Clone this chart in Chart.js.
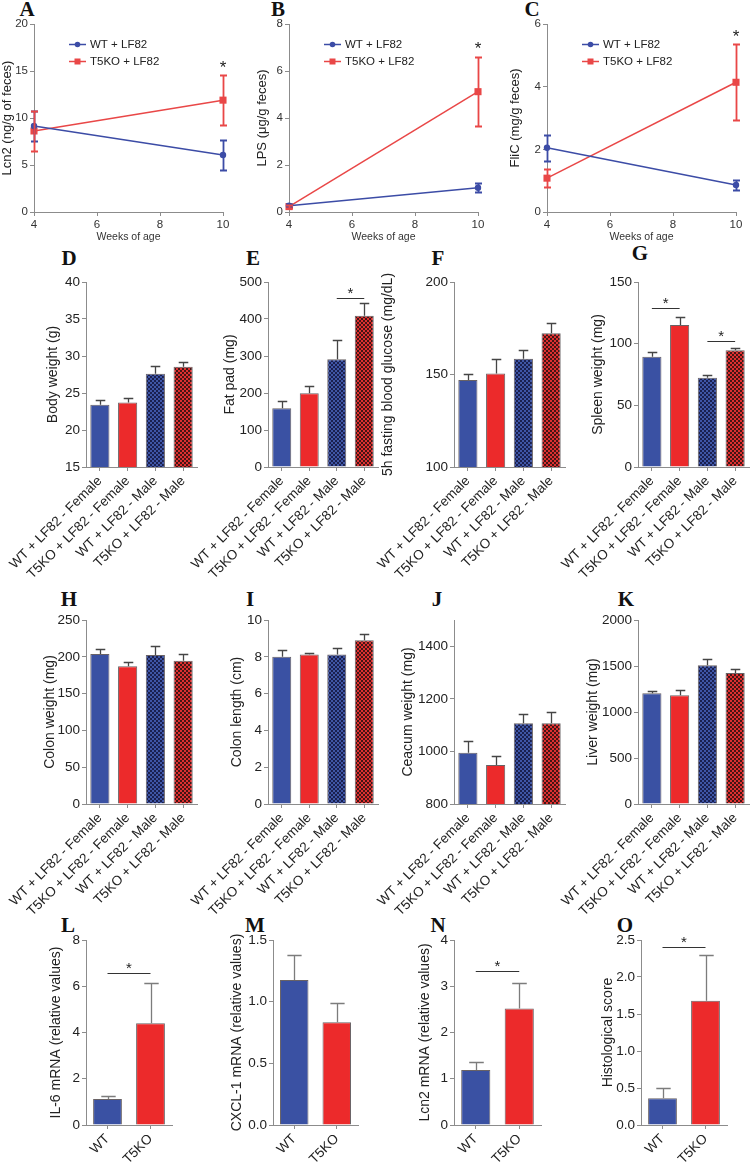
<!DOCTYPE html>
<html><head><meta charset="utf-8">
<script src="https://cdn.jsdelivr.net/npm/chart.js@4.4.0/dist/chart.umd.min.js"></script>
<style>
html,body{margin:0;padding:0;background:#fff}
body{width:750px;height:1164px;position:relative;overflow:hidden}
canvas{position:absolute}
.lt{position:absolute;font-family:"Liberation Serif","Times New Roman",serif;font-weight:bold;font-size:21px;color:#111;transform:translate(-50%,-50%);line-height:1}
</style></head><body>
<div class="lt" style="left:27px;top:9px">A</div>
<div class="lt" style="left:278px;top:9px">B</div>
<div class="lt" style="left:532px;top:9px">C</div>
<div class="lt" style="left:69px;top:258px">D</div>
<div class="lt" style="left:253px;top:258px">E</div>
<div class="lt" style="left:438px;top:258px">F</div>
<div class="lt" style="left:640px;top:253px">G</div>
<div class="lt" style="left:69px;top:599px">H</div>
<div class="lt" style="left:250px;top:599px">I</div>
<div class="lt" style="left:437px;top:599px">J</div>
<div class="lt" style="left:626px;top:599px">K</div>
<div class="lt" style="left:68px;top:925px">L</div>
<div class="lt" style="left:255px;top:925px">M</div>
<div class="lt" style="left:438px;top:925px">N</div>
<div class="lt" style="left:625px;top:925px">O</div>
<script>
// ---------------- DATA ----------------
const weeks = [4, 10];
const lcn2WT = [9.15, 6.06];   const lcn2WTErr = [1.63, 1.57];
const lcn2KO = [8.62, 11.9];   const lcn2KOErr = [2.1, 2.67];
const lpsWT = [0.27, 1.03];    const lpsWTErr = [0.06, 0.19];
const lpsKO = [0.23, 5.12];    const lpsKOErr = [0.05, 1.47];
const flicWT = [2.05, 0.86];   const flicWTErr = [0.41, 0.17];
const flicKO = [1.08, 4.14];   const flicKOErr = [0.28, 1.21];
const lineSeries = ['WT + LF82', 'T5KO + LF82'];
const starsA = [{from: 10, y: 15.7}];
const starsB = [{from: 10, y: 7.1}];
const starsC = [{from: 10, y: 5.72}];

const groups = ['WT + LF82 - Female', 'T5KO + LF82 - Female', 'WT + LF82 - Male', 'T5KO + LF82 - Male'];
const bodyWeight = [23.4, 23.7, 27.6, 28.55];   const bodyWeightErr = [0.6, 0.65, 1.0, 0.6];
const fatPad = [159, 199, 291, 409];            const fatPadErr = [20, 20.5, 52, 35];
const glucose = [147, 150.6, 158.5, 172.3];     const glucoseErr = [3.3, 7.6, 4.5, 5.7];
const spleen = [89.4, 115.1, 72.4, 94.6];       const spleenErr = [3.6, 6.5, 2.5, 2.2];
const colonWeight = [203.8, 187, 202.4, 194.7]; const colonWeightErr = [6.8, 5.4, 12.3, 8.7];
const colonLength = [8.0, 8.13, 8.13, 8.9];     const colonLengthErr = [0.37, 0.09, 0.33, 0.36];
const ceacum = [995, 948, 1107, 1107];          const ceacumErr = [46, 34, 34, 44];
const liver = [1203, 1181, 1508, 1424];         const liverErr = [29, 62, 65, 40];
const sigE = [{from: 2, to: 3, y: 456}];
const sigG = [{from: 0, to: 1, y: 129}, {from: 2, to: 3, y: 102}];

const genotypes = ['WT', 'T5KO'];
const il6 = [1.12, 4.4];       const il6Err = [0.15, 1.73];
const cxcl1 = [1.176, 0.833];  const cxcl1Err = [0.205, 0.157];
const lcn2mRNA = [1.19, 2.52]; const lcn2mRNAErr = [0.18, 0.54];
const histo = [0.36, 1.68];    const histoErr = [0.144, 0.62];
const sigL = [{from: 0, to: 1, y: 6.57}];
const sigN = [{from: 0, to: 1, y: 3.33}];
const sigO = [{from: 0, to: 1, y: 2.4}];

// ---------------- STYLE ----------------
const SANS = '"Liberation Sans", Arial, Helvetica, sans-serif';
const AX = '#8c8c8c';
const TXT = '#222';
const BLUE = '#3a51a3', RED = '#ec2a2b';
const LBLUE = '#3c4ca6', LRED = '#e94747';

function makePattern(light, dark) {
  const t = document.createElement('canvas'); t.width = 4; t.height = 4;
  const c = t.getContext('2d');
  c.fillStyle = light; c.fillRect(0, 0, 4, 4);
  c.fillStyle = dark; c.fillRect(0, 0, 2, 2); c.fillRect(2, 2, 2, 2);
  return c.createPattern(t, 'repeat');
}
const PBLUE = makePattern('#3f56a6', '#1a2050');
const PRED = makePattern('#de3030', '#451515');

// ---------------- PLUGINS ----------------
const errorBars = {
  id: 'errorBars',
  afterDatasetsDraw(chart, args, opts) {
    if (!opts || !opts.on) return;
    const ctx = chart.ctx, ys = chart.scales.y;
    chart.data.datasets.forEach((ds, di) => {
      if (!ds.errors) return;
      const meta = chart.getDatasetMeta(di);
      meta.data.forEach((el, i) => {
        const e = ds.errors[i];
        if (e == null) return;
        const d = ds.data[i];
        const v = (typeof d === 'object') ? d.y : d;
        const x = Math.round(el.x) + 0.5;
        const yTop = Math.round(ys.getPixelForValue(v + e)) + 0.5;
        const yBot = opts.both ? Math.round(ys.getPixelForValue(v - e)) + 0.5 : el.y;
        const cap = opts.cap != null ? opts.cap : el.width / 4;
        ctx.save();
        ctx.strokeStyle = opts.color || ds.borderColor;
        ctx.lineWidth = opts.width || 1.3;
        ctx.beginPath();
        ctx.moveTo(x, yTop); ctx.lineTo(x, yBot);
        ctx.moveTo(x - cap, yTop); ctx.lineTo(x + cap, yTop);
        if (opts.both) { ctx.moveTo(x - cap, yBot); ctx.lineTo(x + cap, yBot); }
        ctx.stroke();
        ctx.restore();
      });
    });
  }
};

const sigMarks = {
  id: 'sigMarks',
  afterDatasetsDraw(chart, args, opts) {
    if (!opts || !opts.items) return;
    const ctx = chart.ctx, xs = chart.scales.x, ys = chart.scales.y;
    opts.items.forEach(it => {
      const y = Math.round(ys.getPixelForValue(it.y)) + 0.5;
      let cx;
      ctx.save();
      if (it.to != null) {
        const x1 = xs.getPixelForValue(it.from), x2 = xs.getPixelForValue(it.to);
        ctx.strokeStyle = '#333'; ctx.lineWidth = 1;
        ctx.beginPath(); ctx.moveTo(x1, y); ctx.lineTo(x2, y); ctx.stroke();
        cx = (x1 + x2) / 2;
        ctx.font = (opts.size || 15) + 'px ' + SANS;
        ctx.fillStyle = '#222'; ctx.textAlign = 'center'; ctx.textBaseline = 'alphabetic';
        ctx.fillText('*', cx, y - 1);
      } else {
        cx = xs.getPixelForValue(it.from);
        ctx.font = (opts.size || 17) + 'px ' + SANS;
        ctx.fillStyle = '#222'; ctx.textAlign = 'center'; ctx.textBaseline = 'alphabetic';
        ctx.fillText('*', cx, y + 8);
      }
      ctx.restore();
    });
  }
};

const inLegend = {
  id: 'inLegend',
  afterDraw(chart, args, opts) {
    if (!opts || !opts.on) return;
    const ctx = chart.ctx, a = chart.chartArea;
    chart.data.datasets.forEach((ds, i) => {
      const y = Math.round(a.top + opts.dy0 + i * opts.dy) + 0.5;
      const x0 = a.left + opts.dx;
      ctx.save();
      ctx.strokeStyle = ds.borderColor; ctx.fillStyle = ds.borderColor; ctx.lineWidth = 1.5;
      ctx.beginPath(); ctx.moveTo(x0, y); ctx.lineTo(x0 + 17, y); ctx.stroke();
      if (ds.pointStyle === 'rect') ctx.fillRect(x0 + 8.5 - 3, y - 3, 6, 6);
      else { ctx.beginPath(); ctx.arc(x0 + 8.5, y, 2.8, 0, Math.PI * 2); ctx.fill(); }
      ctx.fillStyle = TXT; ctx.font = '11.5px ' + SANS; ctx.textBaseline = 'middle'; ctx.textAlign = 'left';
      ctx.fillText(ds.label, x0 + 21, y + 0.5);
      ctx.restore();
    });
  }
};
Chart.register(errorBars, sigMarks, inLegend);

// ---------------- BUILDERS ----------------
function mkCanvas(x, y, w, h) {
  const c = document.createElement('canvas');
  c.width = w; c.height = h;
  c.style.left = x + 'px'; c.style.top = y + 'px';
  c.style.width = w + 'px'; c.style.height = h + 'px';
  document.body.appendChild(c);
  return c;
}
function zeroPad(s) { s.paddingLeft = 0; s.paddingRight = 0; s.paddingTop = 0; s.paddingBottom = 0; }

function build(g, type, data, scales, plugins) {
  const yW = g.axisX - g.cl;
  const w = yW + (g.right - g.axisX) + g.padR;
  const h = g.padTop + (g.bottom - g.top) + g.xH;
  const c = mkCanvas(g.cl, g.top - g.padTop, w, h);
  scales.x.afterFit = s => { s.height = g.xH; zeroPad(s); };
  scales.y.afterFit = s => { s.width = yW; zeroPad(s); };
  const tf = scales.y.title.font.size;
  scales.y.title.padding = {top: g.titleX - g.cl - tf * 0.6, bottom: 0};
  return new Chart(c, {
    type, data,
    options: {
      responsive: false, animation: false, devicePixelRatio: 1,
      layout: {padding: {top: g.padTop, right: g.padR, left: 0, bottom: 0}, autoPadding: false},
      scales,
      plugins: Object.assign({legend: {display: false}, tooltip: {enabled: false}}, plugins)
    }
  });
}

function linePanel(g, wt, wtErr, ko, koErr, ymax, step, ytitle, stars) {
  const mk = (vals) => weeks.map((w, i) => ({x: w, y: vals[i]}));
  const data = {datasets: [
    {label: lineSeries[0], data: mk(wt), errors: wtErr, borderColor: LBLUE, backgroundColor: LBLUE,
     pointStyle: 'circle', pointRadius: 3.2, pointBorderWidth: 0, borderWidth: 1.5, clip: false},
    {label: lineSeries[1], data: mk(ko), errors: koErr, borderColor: LRED, backgroundColor: LRED,
     pointStyle: 'rect', pointRadius: 5, pointBorderWidth: 0, borderWidth: 1.5, clip: false}
  ]};
  const scales = {
    x: {type: 'linear', min: 4, max: 10,
        ticks: {stepSize: 2, font: {size: 11.5, family: SANS}, color: '#333', padding: 2},
        grid: {drawOnChartArea: false, tickLength: 4, color: AX}, border: {color: AX},
        title: {display: true, text: 'Weeks of age', font: {size: 10.5, family: SANS}, color: '#333', padding: 0}},
    y: {min: 0, max: ymax,
        ticks: {stepSize: step, font: {size: 11.5, family: SANS}, color: '#333', padding: 2},
        grid: {drawOnChartArea: false, tickLength: 4, color: AX}, border: {color: AX},
        title: {display: true, text: ytitle, font: {size: 13, family: SANS}, color: '#222'}}
  };
  return build(g, 'line', data, scales, {
    errorBars: {on: true, both: true, cap: 3.5, width: 1.8},
    sigMarks: {items: stars, size: 17},
    inLegend: {on: true, dx: 35, dy0: 20, dy: 16.5}
  });
}

function barPanel(g, labels, vals, errs, ycfg, ytitle, sig, errColor) {
  const four = labels.length === 4;
  const bg = four ? [BLUE, RED, PBLUE, PRED] : [BLUE, RED];
  const data = {labels, datasets: [{
    data: vals, errors: errs, backgroundColor: bg,
    borderColor: 'rgba(55,45,50,0.75)', borderWidth: 1,
    barPercentage: four ? 0.69 : 0.67, categoryPercentage: 1
  }]};
  const yt = {stepSize: ycfg.step, font: {size: 13.5, family: SANS}, color: TXT, padding: 2,
              callback: v => ycfg.dec ? v.toFixed(ycfg.dec) : String(v)};
  if (ycfg.noMax) yt.includeBounds = false;
  const scales = {
    x: {type: 'category', offset: true,
        ticks: {minRotation: 45, maxRotation: 45, autoSkip: false, font: {size: 13.5, family: SANS}, color: TXT, padding: 2},
        grid: {offset: false, drawOnChartArea: false, tickLength: 4, color: AX}, border: {color: AX}},
    y: {min: ycfg.min, max: ycfg.max, ticks: yt,
        grid: {drawOnChartArea: false, tickLength: 4, color: AX}, border: {color: AX},
        title: {display: true, text: ytitle, font: {size: 14, family: SANS}, color: TXT}}
  };
  return build(g, 'bar', data, scales, {
    errorBars: {on: true, both: false, color: errColor, width: 1.3},
    sigMarks: {items: sig, size: 15}
  });
}

// ---------------- PANELS ----------------
const rowA = {top: 24, bottom: 212, padTop: 20, padR: 14, xH: 31};
linePanel(Object.assign({cl: 0, axisX: 34, right: 223, titleX: 7.5}, rowA), lcn2WT, lcn2WTErr, lcn2KO, lcn2KOErr, 20, 5, 'Lcn2 (ng/g of feces)', starsA);
linePanel(Object.assign({cl: 255, axisX: 289, right: 478, titleX: 262}, rowA), lpsWT, lpsWTErr, lpsKO, lpsKOErr, 8, 2, 'LPS (\u03bcg/g feces)', starsB);
linePanel(Object.assign({cl: 508, axisX: 547, right: 736, titleX: 515}, rowA), flicWT, flicWTErr, flicKO, flicKOErr, 6, 2, 'FliC (mg/g feces)', starsC);

const rowD = {top: 282, bottom: 467, padTop: 12, padR: 6, xH: 112};
const DK = '#454545';
barPanel(Object.assign({cl: 0, axisX: 86, right: 197, titleX: 53}, rowD), groups, bodyWeight, bodyWeightErr, {min: 15, max: 40, step: 5}, 'Body weight (g)', null, DK);
barPanel(Object.assign({cl: 185, axisX: 268, right: 378, titleX: 230}, rowD), groups, fatPad, fatPadErr, {min: 0, max: 500, step: 100}, 'Fat pad (mg)', sigE, DK);
barPanel(Object.assign({cl: 370, axisX: 454, right: 565, titleX: 388}, rowD), groups, glucose, glucoseErr, {min: 100, max: 200, step: 50}, '5h fasting blood glucose (mg/dL)', null, DK);
barPanel(Object.assign({cl: 560, axisX: 638, right: 749, titleX: 598, padR: 1}, rowD), groups, spleen, spleenErr, {min: 0, max: 150, step: 50}, 'Spleen weight (mg)', sigG, DK);

const rowH = {top: 620, bottom: 804, padTop: 12, padR: 6, xH: 112};
barPanel(Object.assign({cl: 0, axisX: 86, right: 197, titleX: 50}, rowH), groups, colonWeight, colonWeightErr, {min: 0, max: 250, step: 50}, 'Colon weight (mg)', null, DK);
barPanel(Object.assign({cl: 185, axisX: 268, right: 378, titleX: 237}, rowH), groups, colonLength, colonLengthErr, {min: 0, max: 10, step: 2}, 'Colon length (cm)', null, DK);
barPanel(Object.assign({cl: 370, axisX: 454, right: 565, titleX: 408}, rowH), groups, ceacum, ceacumErr, {min: 800, max: 1500, step: 200, noMax: true}, 'Ceacum weight (mg)', null, DK);
barPanel(Object.assign({cl: 560, axisX: 638, right: 749, titleX: 593, padR: 1}, rowH), groups, liver, liverErr, {min: 0, max: 2000, step: 500}, 'Liver weight (mg)', null, DK);

const rowL = {top: 940, bottom: 1125, padTop: 12, padR: 6, xH: 39};
const GR = '#7c7c7c';
barPanel(Object.assign({cl: 0, axisX: 86, right: 172, titleX: 56}, rowL), genotypes, il6, il6Err, {min: 0, max: 8, step: 2}, 'IL-6 mRNA (relative values)', sigL, GR);
barPanel(Object.assign({cl: 190, axisX: 273, right: 358, titleX: 237}, rowL), genotypes, cxcl1, cxcl1Err, {min: 0, max: 1.5, step: 0.5, dec: 1}, 'CXCL-1 mRNA (relative values)', null, GR);
barPanel(Object.assign({cl: 380, axisX: 454, right: 541, titleX: 425}, rowL), genotypes, lcn2mRNA, lcn2mRNAErr, {min: 0, max: 4, step: 1}, 'Lcn2 mRNA (relative values)', sigN, GR);
barPanel(Object.assign({cl: 570, axisX: 641, right: 727, titleX: 608}, rowL), genotypes, histo, histoErr, {min: 0, max: 2.5, step: 0.5, dec: 1}, 'Histological score', sigO, GR);
</script>
</body></html>
